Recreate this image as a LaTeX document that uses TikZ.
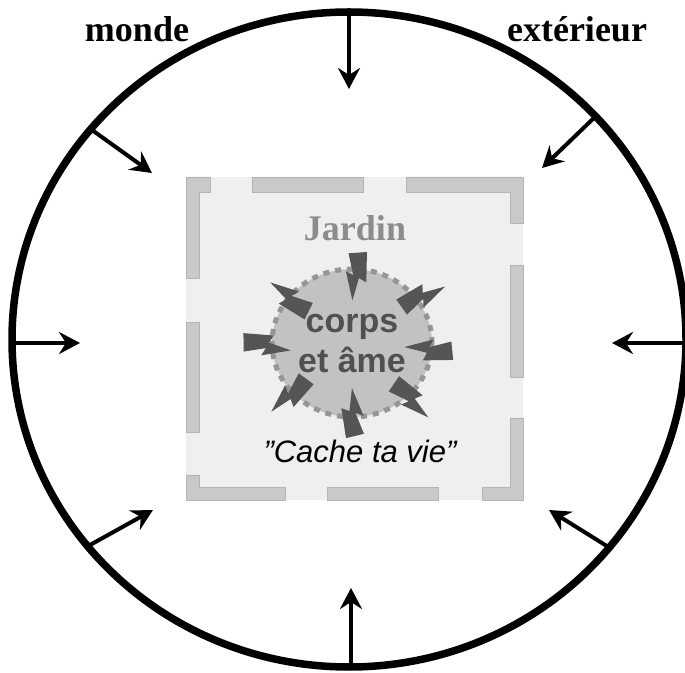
\documentclass[tikz,border=0pt]{standalone}
\usepackage{fontspec}
\setmainfont{Liberation Serif}
\setsansfont{Liberation Sans}
\usetikzlibrary{arrows.meta,shapes.geometric}
\definecolor{gardengray}{HTML}{EFEFEF}
\definecolor{wallgray}{HTML}{C9C9C9}
\definecolor{walledge}{HTML}{B4B4B4}
\definecolor{soulgray}{HTML}{C2C2C2}
\definecolor{dotgray}{HTML}{959595}
\definecolor{inkgray}{HTML}{505050}
\definecolor{boltgray}{HTML}{555555}
\definecolor{jardingray}{HTML}{8C8C8C}
\tikzset{
  world/.style={line width=7.5pt},
  push/.style={-{Stealth[length=21pt,width=22pt,inset=7pt]},line width=4pt},
  wall/.style={fill=wallgray,draw=walledge,line width=0.6pt},
  title/.style={font=\fontsize{36}{40}\selectfont\bfseries,inner sep=0pt},
  soul/.style={ellipse,fill=soulgray,draw=dotgray,line width=5pt,
    dash pattern=on 6pt off 6pt,minimum width=160pt,minimum height=148pt},
  bolt/.pic={\fill[boltgray] (0,7) -- (4,-11) -- (25,-3) -- (22,-11)
    -- (50,0) -- (27,3) -- (30,11) -- cycle;}}
\begin{document}
\begin{tikzpicture}[x=1pt,y=1pt]
  \useasboundingbox[fill=white] (0,0) rectangle (685,672);
  % outer world
  \draw[world] (349,332.5) ellipse [x radius=337pt,y radius=327.5pt];
  \node[title,anchor=base] (monde) at (137,630) {monde};
  \node[title,anchor=base] (exterieur) at (577,630) {extérieur};
  \coordinate (wN) at (349,660);  \coordinate (gN) at (349,583);
  \coordinate (wS) at (351,5);    \coordinate (gS) at (351,84);
  \coordinate (wW) at (12,329);   \coordinate (gW) at (80,329);
  \coordinate (wE) at (686,329);  \coordinate (gE) at (612,329);
  \coordinate (wNW) at (92,542);  \coordinate (gNW) at (152,499);
  \coordinate (wNE) at (597,557); \coordinate (gNE) at (542,504);
  \coordinate (wSW) at (90,127);  \coordinate (gSW) at (153,162);
  \coordinate (wSE) at (610,124); \coordinate (gSE) at (549,162);
  \foreach \d in {N,S,W,E,NW,NE,SW,SE}
    \draw[push] (w\d) -- (g\d);
  % garden and its walls
  \fill[gardengray] (186,172) rectangle (523,495);
  \draw[wall] (186,495) -- (210,495) -- (210,480) -- (199,480) -- (199,394) -- (186,394) -- cycle;
  \draw[wall] (252,480) rectangle (363,495);
  \draw[wall] (406,495) -- (523,495) -- (523,449) -- (510,449) -- (510,480) -- (406,480) -- cycle;
  \draw[wall] (510,295) rectangle (523,407);
  \draw[wall] (510,254) -- (523,254) -- (523,172) -- (482,172) -- (482,185) -- (510,185) -- cycle;
  \draw[wall] (327,172) rectangle (438,185);
  \draw[wall] (186,197) -- (199,197) -- (199,185) -- (285,185) -- (285,172) -- (186,172) -- cycle;
  \draw[wall] (186,240) rectangle (199,350);
  \node[title,text=jardingray,anchor=base] (jardin) at (355,431) {Jardin};
  % body and soul
  \node[soul] (soul) at (352,329) {};
  \foreach \x/\y/\a in {360/421/261.3, 399/366/22.9, 454/319/173.2, 394/291/-46.7,
      353/234/91.2, 309/293/221, 242/332/-12, 309/358/140.8}
    \pic[rotate=\a] at (\x,\y) {bolt};
  \node[font=\fontsize{34}{40}\selectfont\sffamily\bfseries,text=inkgray,align=center]
    (corps) at (soul.center) {corps\\et âme};
  \node[font=\fontsize{31}{34}\selectfont\sffamily\itshape,anchor=base] (devise)
    at (360,209) {\symbol{34}Cache ta vie\symbol{34}};
\end{tikzpicture}
\end{document}
